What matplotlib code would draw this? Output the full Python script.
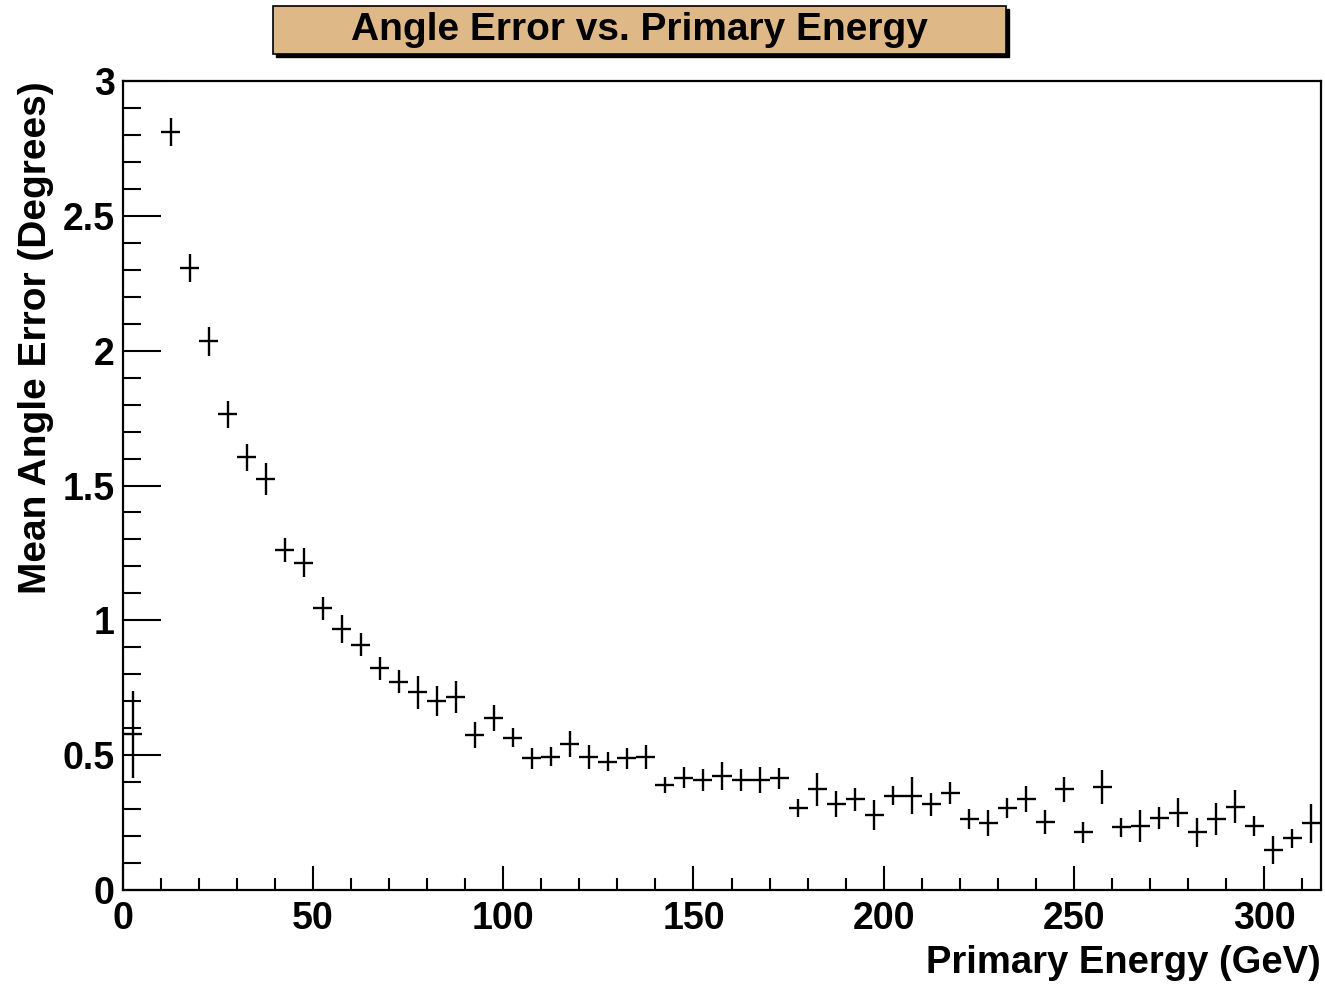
import numpy as np
import matplotlib.pyplot as plt
from matplotlib.patches import Rectangle

# bin centres (GeV), 5 GeV wide bins; the 5-10 GeV bin is empty
energy = [2.5, 12.5, 17.5, 22.5, 27.5, 32.5, 37.5, 42.5, 47.5, 52.5,
          57.5, 62.5, 67.5, 72.5, 77.5, 82.5, 87.5, 92.5, 97.5, 102.5,
          107.5, 112.5, 117.5, 122.5, 127.5, 132.5, 137.5, 142.5, 147.5, 152.5,
          157.5, 162.5, 167.5, 172.5, 177.5, 182.5, 187.5, 192.5, 197.5, 202.5,
          207.5, 212.5, 217.5, 222.5, 227.5, 232.5, 237.5, 242.5, 247.5, 252.5,
          257.5, 262.5, 267.5, 272.5, 277.5, 282.5, 287.5, 292.5, 297.5, 302.5,
          307.5, 312.5]

mean_err = [0.577, 2.810, 2.306, 2.034, 1.764, 1.604, 1.523, 1.261, 1.213, 1.045,
            0.967, 0.909, 0.822, 0.773, 0.733, 0.701, 0.717, 0.575, 0.639, 0.565,
            0.488, 0.494, 0.542, 0.494, 0.476, 0.488, 0.494, 0.389, 0.417, 0.408,
            0.423, 0.408, 0.408, 0.414, 0.303, 0.373, 0.318, 0.336, 0.278, 0.350,
            0.350, 0.318, 0.359, 0.263, 0.247, 0.303, 0.336, 0.253, 0.373, 0.214,
            0.383, 0.232, 0.237, 0.266, 0.287, 0.214, 0.263, 0.309, 0.237, 0.148,
            0.192, 0.247]

sigma = [0.160, 0.051, 0.051, 0.054, 0.050, 0.051, 0.059, 0.046, 0.054, 0.043,
         0.052, 0.043, 0.043, 0.042, 0.060, 0.054, 0.059, 0.048, 0.048, 0.035,
         0.040, 0.036, 0.048, 0.045, 0.035, 0.040, 0.045, 0.030, 0.040, 0.040,
         0.051, 0.041, 0.048, 0.040, 0.033, 0.060, 0.048, 0.043, 0.054, 0.036,
         0.070, 0.042, 0.040, 0.036, 0.048, 0.037, 0.048, 0.045, 0.046, 0.039,
         0.063, 0.036, 0.059, 0.040, 0.054, 0.054, 0.060, 0.062, 0.036, 0.051,
         0.036, 0.071]

bin_half = 2.5

plt.rcParams['font.family'] = ['Liberation Sans', 'DejaVu Sans']
plt.rcParams['font.weight'] = 'bold'

fig = plt.figure(figsize=(13.25, 9.84), dpi=100)
ax = fig.add_axes([123 / 1325, 1 - 890 / 984, (1321 - 123) / 1325, (890 - 81) / 984])

ax.errorbar(energy, mean_err, xerr=bin_half, yerr=sigma, fmt='none',
            ecolor='black', elinewidth=1.7, capsize=0)

ax.set_xlim(0, 315)
ax.set_ylim(0, 3)
ax.set_xticks(np.arange(0, 301, 50))
ax.set_xticks(np.arange(0, 315, 10), minor=True)
ax.set_yticks(np.arange(0, 3.01, 0.5))
ax.set_yticks(np.arange(0, 3.0, 0.1), minor=True)
ax.set_xticklabels(['0', '50', '100', '150', '200', '250', '300'])
ax.set_yticklabels(['0', '0.5', '1', '1.5', '2', '2.5', '3'])

ax.tick_params(axis='x', which='major', direction='in', length=17, width=1.5,
               labelsize=27, pad=8)
ax.tick_params(axis='x', which='minor', direction='in', length=9, width=1.5)
ax.tick_params(axis='y', which='major', direction='in', length=27, width=1.5,
               labelsize=27, pad=6)
ax.tick_params(axis='y', which='minor', direction='in', length=13, width=1.5)
for s in ax.spines.values():
    s.set_linewidth(1.6)

ax.set_xlabel('Primary Energy (GeV)', fontsize=27.5, fontweight='bold', loc='right',
              labelpad=6)
ax.set_ylabel('Mean Angle Error (Degrees)', fontsize=28, fontweight='bold', loc='top',
              labelpad=6)

# ROOT-style title box with drop shadow
bx0, by0, bw, bh = 273 / 1325, 1 - 54 / 984, (1006 - 273) / 1325, (54 - 6) / 984
fig.patches.append(Rectangle((bx0 + 3 / 1325, by0 - 3 / 984), bw, bh,
                             transform=fig.transFigure, facecolor='black',
                             edgecolor='black'))
fig.patches.append(Rectangle((bx0, by0), bw, bh, transform=fig.transFigure,
                             facecolor='#DEB887', edgecolor='black', linewidth=1.2))
fig.text(bx0 + bw / 2, by0 + bh / 2, 'Angle Error vs. Primary Energy',
         ha='center', va='center', fontsize=28, fontweight='bold',
         family=['Liberation Sans Narrow', 'Liberation Sans', 'DejaVu Sans'])

fig.savefig('out.png', dpi=100)
